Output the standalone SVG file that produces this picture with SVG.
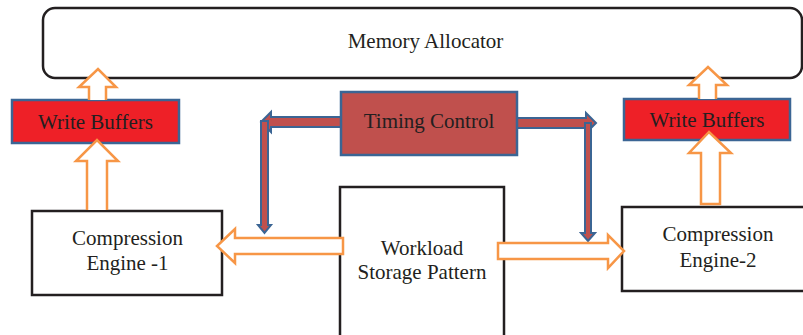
<svg xmlns="http://www.w3.org/2000/svg" width="803" height="335" viewBox="0 0 803 335">
<style>
.box{fill:#fff;stroke:#231F20;stroke-width:2.5}
.wb{fill:#EE2027;stroke:#3B6594;stroke-width:2.5}
.tc{fill:#C0504D;stroke:#3B6594;stroke-width:2.5}
.oa{fill:#fff;stroke:#F79646;stroke-width:2.5;stroke-linejoin:miter}
.ta{fill:#C0504D;stroke:#3B6594;stroke-width:2;stroke-linejoin:miter}
text{font-family:"Liberation Serif","Times New Roman",serif;font-size:21px;fill:#231F20;text-anchor:middle}
</style>
<rect width="803" height="335" fill="#fff"/>
<g id="memory-allocator">
<rect class="box" x="43" y="8" width="759" height="70" rx="12"/>
<text x="425.5" y="48">Memory Allocator</text>
</g>
<g id="write-buffers-1">
<rect class="wb" x="12" y="100" width="167" height="43"/>
<text x="95.5" y="129">Write Buffers</text>
</g>
<g id="write-buffers-2">
<rect class="wb" x="624" y="99" width="166" height="41"/>
<text x="707" y="127">Write Buffers</text>
</g>
<g id="compression-engine-1">
<rect class="box" x="32" y="211" width="190" height="84"/>
<text x="127.5" y="245">Compression</text>
<text x="127.5" y="270">Engine -1</text>
</g>
<g id="compression-engine-2">
<rect class="box" x="622" y="207" width="185" height="84"/>
<text x="718" y="241">Compression</text>
<text x="718" y="267">Engine-2</text>
</g>
<g id="workload-storage-pattern">
<rect class="box" x="340" y="187" width="164" height="160"/>
<text x="422" y="255">Workload</text>
<text x="422" y="279">Storage Pattern</text>
</g>
<g id="connectors">
<path class="ta" d="M341,117 L271,117 L271,112 L261,122 L271,132 L271,127 L341,127 Z"/>
<path class="ta" d="M261,121 L268,121 L268,225 L271,225 L264.5,233 L258,225 L261,225 Z"/>
<path class="ta" d="M517,118 L586,118 L586,113 L596,123 L586,133 L586,128 L517,128 Z"/>
<path class="ta" d="M585,123 L591,123 L591,233 L595,233 L588,241 L581,233 L585,233 Z"/>
<path class="oa" d="M89,100 L89,87 L79,87 L98,69 L116,87 L106,87 L106,100"/>
<path class="oa" d="M87,210 L87,161 L76,161 L97,140 L118,161 L107,161 L107,210"/>
<path class="oa" d="M699,99 L699,85 L689,85 L708,67 L727,85 L716,85 L716,99"/>
<path class="oa" d="M701,204 L701,153 L689,153 L709,132 L731,153 L720,153 L720,204 Z"/>
<path class="oa" d="M343,238 L235,238 L235,229 L217,246 L235,263 L235,254 L343,254 Z"/>
<path class="oa" d="M498,243 L608,243 L608,235 L624,251 L608,268 L608,259 L498,259 Z"/>
</g>
<g id="timing-control">
<rect class="tc" x="341" y="92" width="176" height="63"/>
<text x="429" y="128">Timing Control</text>
</g>
</svg>
